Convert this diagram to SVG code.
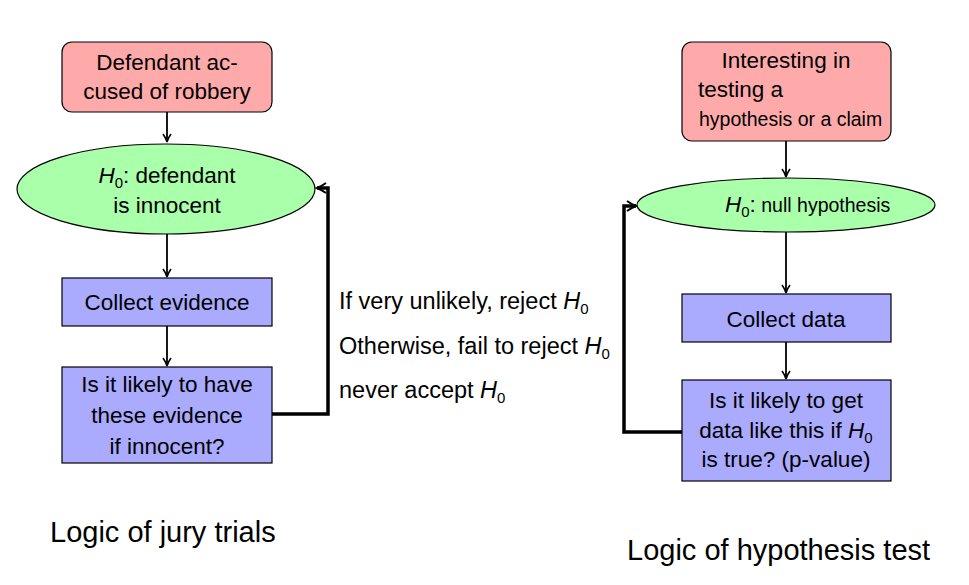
<svg xmlns="http://www.w3.org/2000/svg" width="969" height="585" viewBox="0 0 969 585">
<defs>
<marker id="arr" markerWidth="10" markerHeight="10" refX="9" refY="5" orient="auto" markerUnits="userSpaceOnUse">
<path d="M1,1 Q5,4 9,5 Q5,6 1,9" fill="none" stroke="#000" stroke-width="1.6"/>
</marker>
<marker id="arrT" markerWidth="12" markerHeight="12" refX="10" refY="6" orient="auto" markerUnits="userSpaceOnUse">
<path d="M1,1 Q6,4.5 10,6 Q6,7.5 1,11" fill="none" stroke="#000" stroke-width="2"/>
</marker>
</defs>
<style>
text{font-family:"Liberation Sans",Arial,sans-serif;font-size:22.5px;fill:#000}
.c{text-anchor:middle}
.s{font-size:19.5px}
.m{font-size:23.5px}
.t{font-size:29px}
.i{font-style:italic}
.sub{font-size:15px}
.red{fill:#FFAAAA;stroke:#000;stroke-width:1.2}
.grn{fill:#AAFFAA;stroke:#000;stroke-width:1.2}
.blu{fill:#AAAAFF;stroke:#000;stroke-width:1.2}
.ln{fill:none;stroke:#000;stroke-width:1.8}
.fb{fill:none;stroke:#000;stroke-width:3.5}
</style>
<rect width="969" height="585" fill="#fff"/>
<g id="connectors">
<line class="ln" x1="167" y1="112" x2="167" y2="142" marker-end="url(#arr)"/>
<line class="ln" x1="167" y1="234" x2="167" y2="277" marker-end="url(#arr)"/>
<line class="ln" x1="167" y1="326" x2="167" y2="366" marker-end="url(#arr)"/>
<polyline class="fb" points="272,414 328,414 328,188 317,188" marker-end="url(#arrT)"/>
<line class="ln" x1="786" y1="141" x2="786" y2="177" marker-end="url(#arr)"/>
<line class="ln" x1="786" y1="232" x2="786" y2="293" marker-end="url(#arr)"/>
<line class="ln" x1="786" y1="342" x2="786" y2="379" marker-end="url(#arr)"/>
<polyline class="fb" points="682,432 624,432 624,206 636,206" marker-end="url(#arrT)"/>
</g>
<g id="n-defendant">
<rect class="red" x="62" y="42" width="210" height="70" rx="10"/>
<text class="c" x="167" y="70">Defendant ac-</text>
<text class="c" x="167" y="99">cused of robbery</text>
</g>
<g id="n-h0-left">
<ellipse class="grn" cx="166" cy="189" rx="149" ry="45"/>
<text class="c" x="167" y="183"><tspan class="i">H</tspan><tspan class="sub" dy="5">0</tspan><tspan dy="-5">: defendant</tspan></text>
<text class="c" x="167" y="213">is innocent</text>
</g>
<g id="n-collect-evidence">
<rect class="blu" x="62" y="278" width="210" height="48"/>
<text class="c" x="167" y="310">Collect evidence</text>
</g>
<g id="n-likely-left">
<rect class="blu" x="62" y="367" width="210" height="96"/>
<text class="c" x="167" y="392">Is it likely to have</text>
<text class="c" x="167" y="423">these evidence</text>
<text class="c" x="167" y="454">if innocent?</text>
</g>
<g id="n-middle-labels">
<text class="m" x="339" y="309">If very unlikely, reject <tspan class="i">H</tspan><tspan class="sub" dy="5">0</tspan></text>
<text class="m" x="339" y="354">Otherwise, fail to reject <tspan class="i">H</tspan><tspan class="sub" dy="5">0</tspan></text>
<text class="m" x="339" y="398">never accept <tspan class="i">H</tspan><tspan class="sub" dy="5">0</tspan></text>
</g>
<g id="n-interesting">
<rect class="red" x="682" y="42" width="209" height="99" rx="10"/>
<text class="c" x="786" y="68">Interesting in</text>
<text x="698" y="97">testing a</text>
<text class="s" x="699" y="126">hypothesis or a claim</text>
</g>
<g id="n-h0-right">
<ellipse class="grn" cx="786" cy="205" rx="149" ry="27"/>
<text x="725" y="212"><tspan class="i">H</tspan><tspan class="sub" dy="5">0</tspan><tspan dy="-5">:</tspan><tspan class="s"> null hypothesis</tspan></text>
</g>
<g id="n-collect-data">
<rect class="blu" x="682" y="294" width="209" height="48"/>
<text class="c" x="786" y="327">Collect data</text>
</g>
<g id="n-likely-right">
<rect class="blu" x="682" y="380" width="209" height="101"/>
<text class="c" x="786" y="408">Is it likely to get</text>
<text class="c" x="786" y="438">data like this if <tspan class="i">H</tspan><tspan class="sub" dy="5">0</tspan></text>
<text class="c" x="786" y="467">is true?  (p-value)</text>
</g>
<g id="titles">
<text class="t" x="50" y="542">Logic of jury trials</text>
<text class="t" x="627" y="560">Logic of hypothesis test</text>
</g>
</svg>
